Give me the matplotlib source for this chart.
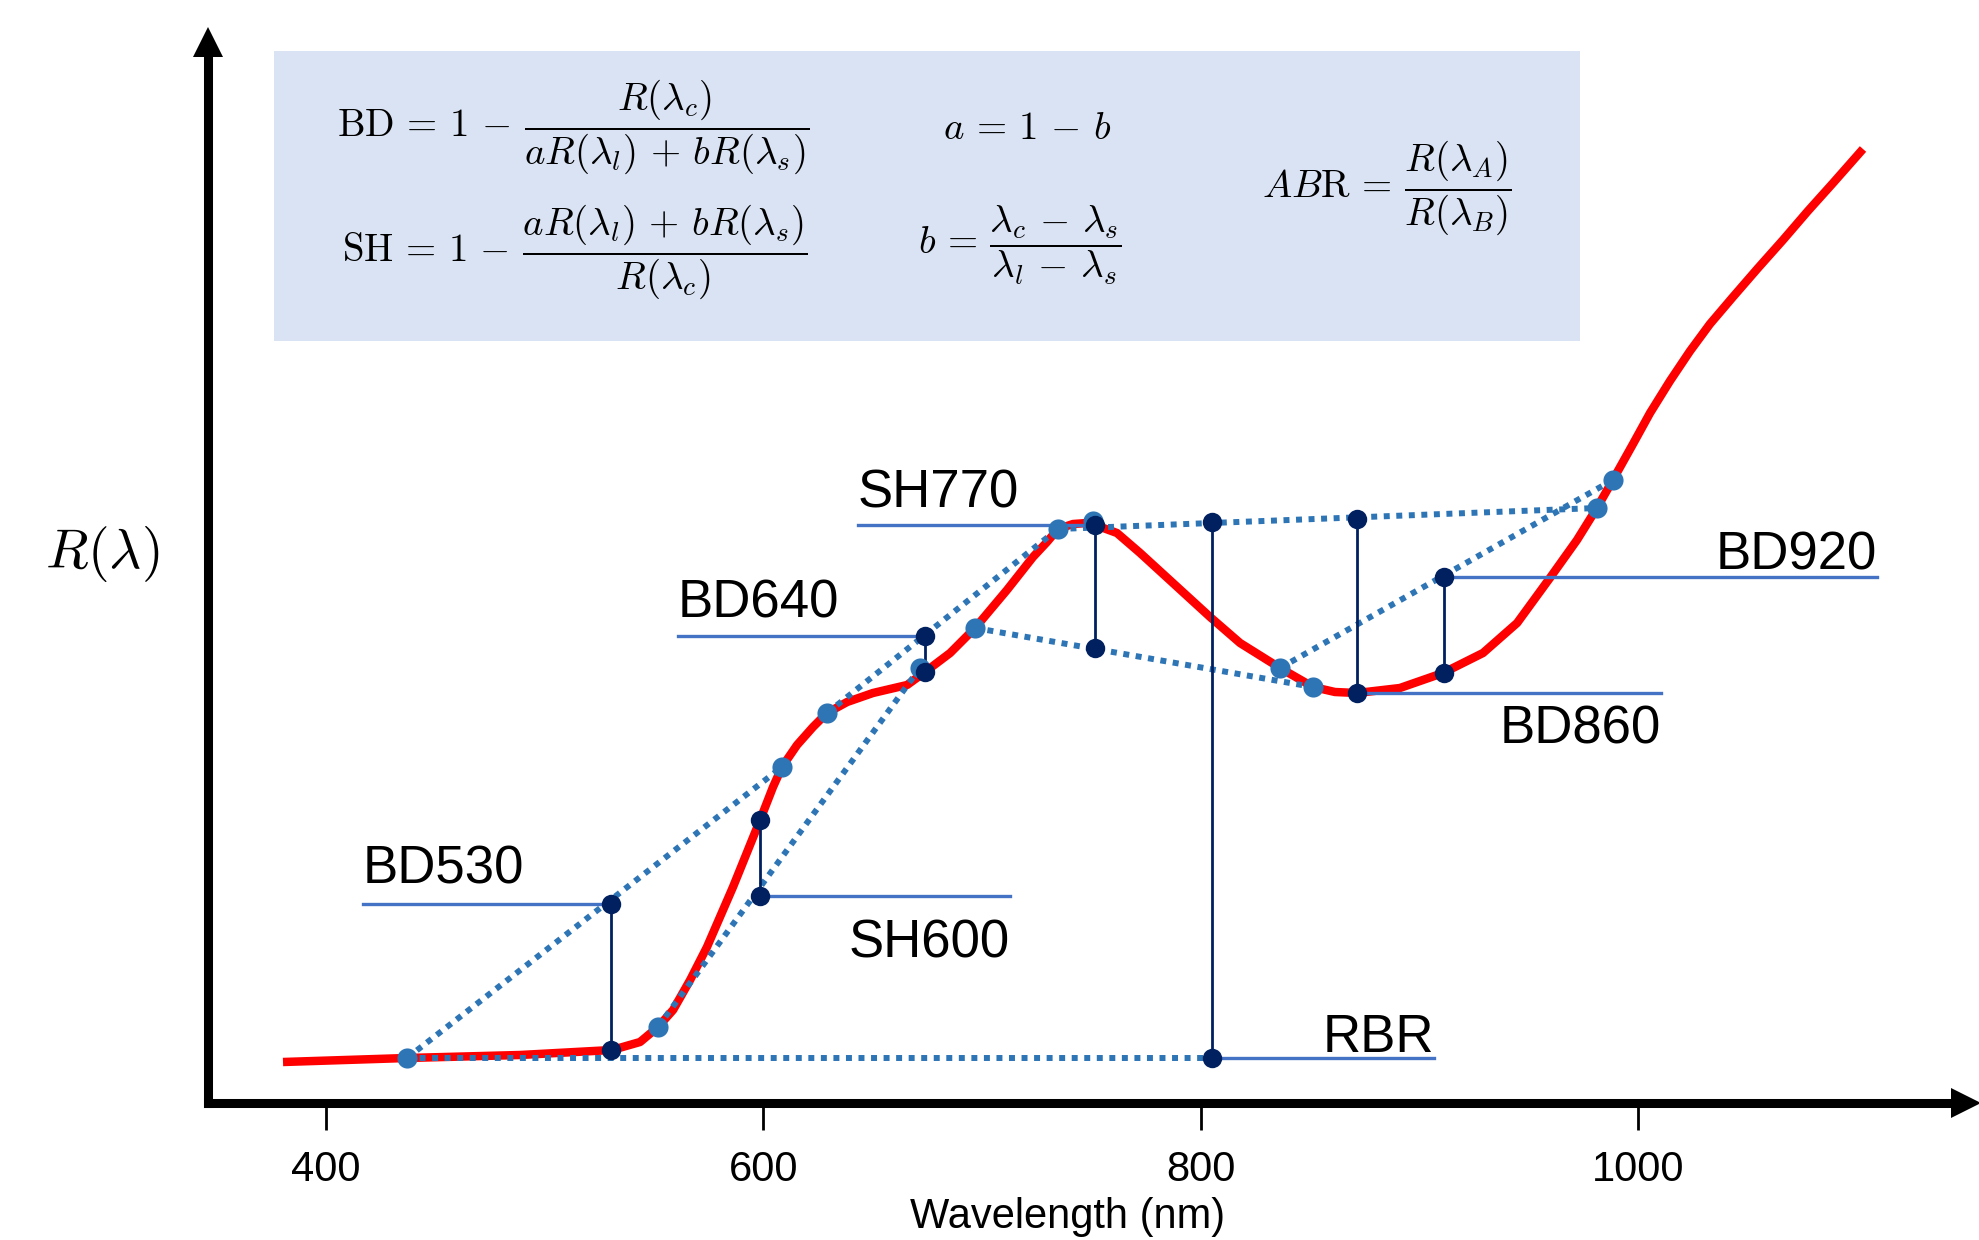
import matplotlib

matplotlib.use("Agg")
import matplotlib.pyplot as plt
from matplotlib.patches import Rectangle

plt.rcParams["font.family"] = ["Liberation Sans", "DejaVu Sans"]
plt.rcParams["mathtext.fontset"] = "cm"

# schematic reflectance spectrum (wavelength in nm, R in arbitrary units)
wl = [380.3, 437.0, 488.7, 530.8, 543.6, 551.8, 558.7, 566.5, 574.2, 586.1,
      598.5, 604.4, 608.5, 615.4, 622.7, 629.1, 638.3, 650.1, 665.7, 673.9,
      685.4, 696.8, 711.4, 723.3, 729.7, 734.7, 741.6, 748.0, 751.7, 761.7,
      772.3, 787.3, 804.3, 818.0, 836.3, 851.4, 861.4, 871.5, 891.1, 910.8,
      929.1, 944.7, 959.7, 972.1, 981.2, 988.5, 997.7, 1005.5, 1014.6, 1023.8,
      1032.9, 1043.4, 1054.9, 1066.3, 1077.7, 1089.2, 1102.9]
refl = [0.041, 0.045, 0.048, 0.053, 0.061, 0.076, 0.093, 0.123, 0.156, 0.216,
        0.283, 0.316, 0.336, 0.358, 0.376, 0.390, 0.401, 0.410, 0.418, 0.431,
        0.450, 0.475, 0.513, 0.546, 0.561, 0.574, 0.579, 0.580, 0.578, 0.570,
        0.550, 0.520, 0.486, 0.460, 0.435, 0.416, 0.411, 0.410, 0.415, 0.430,
        0.450, 0.480, 0.525, 0.563, 0.595, 0.623, 0.659, 0.690, 0.722, 0.752,
        0.779, 0.806, 0.835, 0.863, 0.892, 0.920, 0.954]

# shoulder (continuum anchor) points
sh_wl = [437.0, 551.8, 608.5, 629.1, 671.6, 696.8, 734.7, 750.6, 836.3, 851.4, 981.2, 988.5]
sh_r = [0.045, 0.076, 0.336, 0.390, 0.435, 0.475, 0.574, 0.582, 0.435, 0.416, 0.595, 0.623]

# continuum lines between anchors
cont_wl0 = [437.0, 437.0, 551.8, 629.1, 696.8, 734.7, 836.3]
cont_r0 = [0.045, 0.045, 0.076, 0.390, 0.475, 0.574, 0.435]
cont_wl1 = [805.1, 608.5, 671.6, 734.7, 851.4, 981.2, 988.5]
cont_r1 = [0.045, 0.336, 0.435, 0.574, 0.416, 0.595, 0.623]

# spectral parameters: centre wavelength, top and bottom of the measured gap
feat_names = ["BD530", "SH600", "BD640", "SH770", "RBR", "BD860", "BD920"]
feat_wl = [530.3, 598.5, 673.9, 751.6, 805.1, 871.4, 911.2]
feat_top = [0.199, 0.283, 0.467, 0.578, 0.581, 0.584, 0.526]
feat_bot = [0.053, 0.207, 0.431, 0.455, 0.045, 0.410, 0.430]
leader_at = ["top", "bot", "top", "top", "bot", "bot", "top"]

# label layout (leader end in nm, text baseline in R units)
leader_end = [416.9, 712.8, 561.0, 643.3, 906.7, 1010.5, 1109.3]
label_r = [0.220, 0.146, 0.485, 0.595, 0.051, 0.359, 0.533]

xticks = [400, 600, 800, 1000]

RED = "#FF0000"
LIGHT = "#2E75B6"
DARK = "#002060"
LEADER = "#4472C4"
BOX = "#DAE3F3"

W, H = 1979, 1240
fig = plt.figure(figsize=(W / 100, H / 100), dpi=100)
ax = fig.add_axes([208 / W, 137 / H, 1758 / W, 1061 / H])
ax.set_xlim(346.0, 1150.0)
ax.set_ylim(0, 1.061)
ax.patch.set_visible(False)

for s in ("top", "right"):
    ax.spines[s].set_visible(False)
for s in ("left", "bottom"):
    ax.spines[s].set_linewidth(6.5)
    ax.spines[s].set_capstyle("projecting")
ax.plot(1, 0, marker=">", ms=21, color="k", mew=0, transform=ax.transAxes, clip_on=False)
ax.plot(0, 1, marker="^", ms=21, color="k", mew=0, transform=ax.transAxes, clip_on=False)

ax.set_yticks([])
ax.set_xticks(xticks)
ax.tick_params(axis="x", direction="out", length=19.5, width=2, pad=14, labelsize=30)

ax.set_xlabel("Wavelength (nm)", fontsize=30)
ax.xaxis.set_label_coords(0.489, -0.1178)
ax.xaxis.label.set_va("baseline")
ax.set_ylabel(r"$R(\lambda)$", fontsize=40, rotation=0)
ax.yaxis.set_label_coords(-0.0603, 0.5042)
ax.yaxis.label.set_va("baseline")
ax.yaxis.label.set_ha("center")

# spectrum
ax.plot(wl, refl, color=RED, lw=6.1, solid_capstyle="butt", solid_joinstyle="round", zorder=2)

# continua
for x0, r0, x1, r1 in zip(cont_wl0, cont_r0, cont_wl1, cont_r1):
    ax.plot([x0, x1], [r0, r1], color=LIGHT, lw=4.3, ls=(0, (1, 1.1)), zorder=3)

# measured gaps + label leaders
ax.vlines(feat_wl, feat_bot, feat_top, color=DARK, lw=2, zorder=4)
for name, x, top, bot, at, xe, ry in zip(feat_names, feat_wl, feat_top, feat_bot,
                                          leader_at, leader_end, label_r):
    r = top if at == "top" else bot
    ax.plot([x, xe], [r, r], color=LEADER, lw=2.4, zorder=4)
    ha = "left" if xe < x else "right"
    ax.text(xe, ry, name, ha=ha, va="baseline", fontsize=38, zorder=7)

ax.plot(sh_wl, sh_r, "o", ms=14.5, color=LIGHT, mew=0, zorder=5)
ax.plot(feat_wl + feat_wl, feat_top + feat_bot, "o", ms=14, color=DARK, mew=0, zorder=6)

# formula box
fig.add_artist(Rectangle((274 / W, 1 - 341 / H), 1306 / W, 290 / H,
                         transform=fig.transFigure, facecolor=BOX, edgecolor="none", zorder=0))
fs = 28
fig.text(337 / W, 1 - 127 / H,
         r"$\mathrm{BD}\,=\,1\,-\,\dfrac{R(\lambda_c)}{aR(\lambda_l)\,+\,bR(\lambda_s)}$",
         fontsize=fs, ha="left", va="center")
fig.text(342 / W, 1 - 252 / H,
         r"$\mathrm{SH}\,=\,1\,-\,\dfrac{aR(\lambda_l)\,+\,bR(\lambda_s)}{R(\lambda_c)}$",
         fontsize=fs, ha="left", va="center")
fig.text(943 / W, 1 - 129 / H, r"$a\,=\,1\,-\,b$", fontsize=fs, ha="left", va="center")
fig.text(918 / W, 1 - 245 / H,
         r"$b\,=\,\dfrac{\lambda_c\,-\,\lambda_s}{\lambda_l\,-\,\lambda_s}$",
         fontsize=fs, ha="left", va="center")
fig.text(1262 / W, 1 - 188 / H,
         r"$AB\mathrm{R}\,=\,\dfrac{R(\lambda_A)}{R(\lambda_B)}$",
         fontsize=fs, ha="left", va="center")

fig.savefig("out.png", dpi=100)
